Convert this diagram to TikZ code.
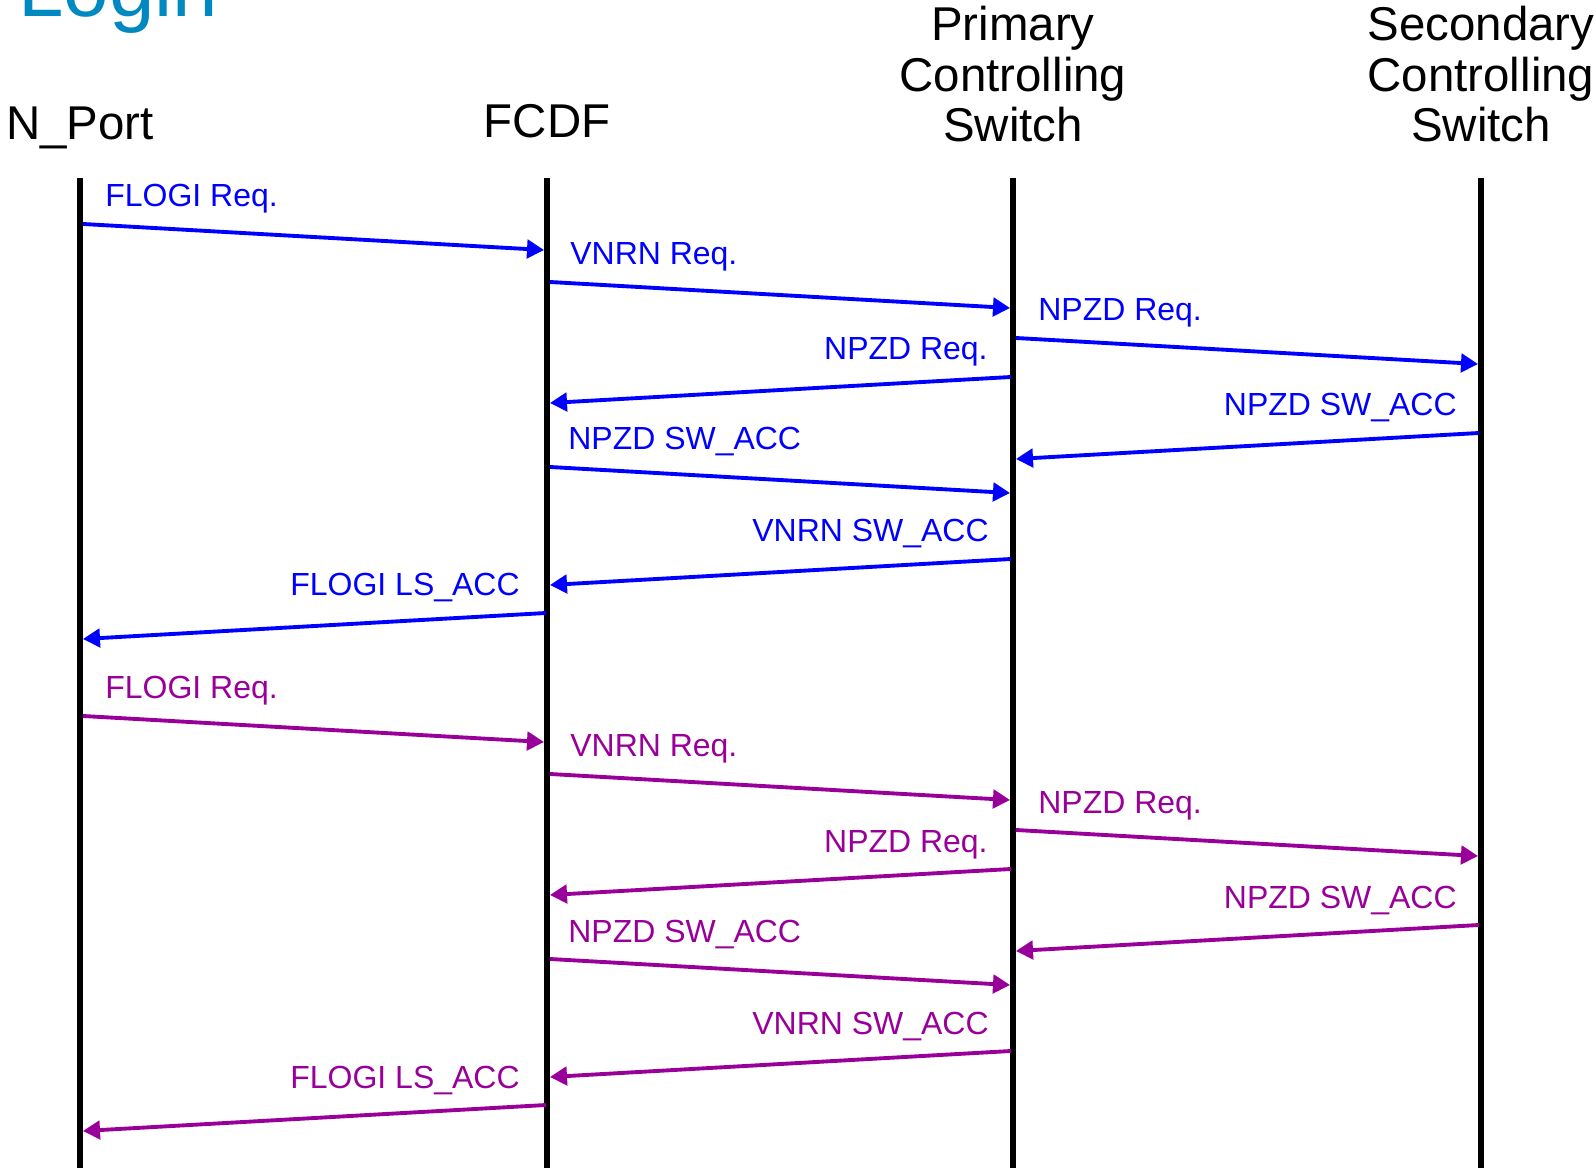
\documentclass[tikz,border=0pt]{standalone}
\usepackage{xcolor}
\usepackage{fontspec}
\setmainfont{Liberation Sans}
\usepackage{tikz}
\usetikzlibrary{positioning,arrows.meta,calc}
\definecolor{titleblue}{RGB}{0,136,192}
\definecolor{msgpurple}{RGB}{153,0,153}

\begin{document}
\begin{tikzpicture}[x=0.02cm,y=-0.02cm,
  lifeline/.style={line width=3.4pt},
  msg/.style={line width=2.2pt,-{Triangle[length=0.34cm,width=0.37cm]}},
  lbl/.style={font=\fontsize{18.2}{20}\selectfont, inner sep=0pt},
  head/.style={font=\fontsize{27}{28.9}\selectfont, align=center, inner sep=0pt}]
\useasboundingbox (0,0) rectangle (1596,1168);
\node[anchor=base west, inner sep=0pt, text=titleblue, font=\fontsize{46.5}{50}\selectfont] (title) at (18,17) {Login};

% participants
\node[head, anchor=base] (np) at (80,140) {N\_Port};
\node[head, anchor=base] (fc) at (547,138) {FCDF};
\node[head, anchor=base] (pc) at (1013,142) {Primary\\Controlling\\Switch};
\node[head, anchor=base] (sc) at (1481,142) {Secondary\\Controlling\\Switch};

% lifelines
\foreach \n/\x in {np/80, fc/547, pc/1013, sc/1481} {
  \coordinate (\n top) at (\x,178);
  \coordinate (\n bot) at (\x,1168);
  \draw[lifeline] (\n top) -- (\n bot);
}

% two login rounds
\foreach \col/\dy in {blue/0, msgpurple/492} {
  \begin{scope}[shift={(0,\dy)}, \col]
  \foreach \a/\b/\y/\an/\off/\t [count=\i] in {
      83/544/224/west/22/{FLOGI Req.},
      550/1010/282/west/20/{VNRN Req.},
      1016/1478/338/west/22/{NPZD Req.},
      1011/550/377/east/-23/{NPZD Req.},
      1479/1016/433/east/-22/{NPZD SW\_ACC},
      550/1010/467/west/18/{NPZD SW\_ACC},
      1011/550/559/east/-22/{VNRN SW\_ACC},
      546/83/613/east/-26/{FLOGI LS\_ACC}} {
    \coordinate (s\i) at (\a,\y);
    \coordinate (e\i) at (\b,\y+26);
    \draw[msg] (s\i) -- (e\i);
    \node[lbl, anchor=base \an] (l\i) at ($(s\i)+(\off,-17)$) {\t};
  }
  \end{scope}
}
\end{tikzpicture}
\end{document}
